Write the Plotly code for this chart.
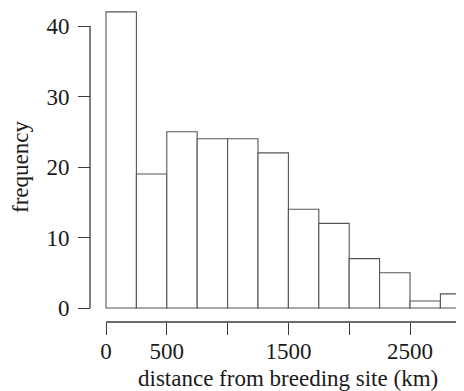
import plotly.graph_objects as go

# ---- data ----
bin_starts = [0, 250, 500, 750, 1000, 1250, 1500, 1750, 2000, 2250, 2500, 2750]
bin_width = 250
frequency = [42, 19, 25, 24, 24, 22, 14, 12, 7, 5, 1, 2]
x_tickvals = [0, 500, 1000, 1500, 2000, 2500, 3000]
x_ticktext = ["0", "500", "", "1500", "", "2500", ""]
y_tickvals = [0, 10, 20, 30, 40]
y_ticktext = ["0", "10", "20", "30", "40"]
x_title = "distance from breeding site (km)"
y_title = "frequency"

# The page body has an 8px default margin, so the figure is drawn 8px
# in from the top-left corner of the 464x391 window.
OFF = 8
W, H = 464 - OFF, 391 - OFF
FONT = "Liberation Serif"
AX = "#3a3a3a"
TXT = "#1a1a1a"

# helpers: window pixel -> paper fraction (margins 0)
def px_x(p):
    return (p - OFF) / W

def px_y(p):
    return 1 - (p - OFF) / H

x0_px, kx = 106, 60.8 / 500      # window pixel of x=0, px per km
y0_px, ky = 308, 7.05            # window pixel of y=0, px per count
xdom_left, ydom_bottom = 92, 312

xr = [-(x0_px - xdom_left) / kx, (464 - x0_px) / kx]
yr = [-(ydom_bottom - y0_px) / ky, (y0_px - OFF) / ky]

fig = go.Figure(
    go.Bar(
        x=bin_starts,
        y=frequency,
        width=bin_width,
        offset=0,
        marker=dict(color="white", line=dict(color="#555555", width=1.1)),
        hoverinfo="x+y",
    )
)

fig.update_layout(
    width=W,
    height=H,
    margin=dict(l=0, r=0, t=0, b=0),
    paper_bgcolor="white",
    plot_bgcolor="white",
    showlegend=False,
    font=dict(family=FONT, color=TXT, size=24),
    xaxis=dict(
        domain=[px_x(xdom_left), 1],
        range=xr,
        anchor="free",
        position=px_y(322),
        showline=False,
        showgrid=False,
        zeroline=False,
        tickmode="array",
        tickvals=x_tickvals,
        ticktext=x_ticktext,
        ticks="outside",
        ticklen=12,
        tickwidth=1.3,
        tickcolor=AX,
        tickfont=dict(family=FONT, size=23, color=TXT),
        ticklabelstandoff=-4,
        automargin=False,
    ),
    yaxis=dict(
        domain=[px_y(ydom_bottom), 1],
        range=yr,
        anchor="free",
        position=px_x(90),
        showline=False,
        showgrid=False,
        zeroline=False,
        tickmode="array",
        tickvals=y_tickvals,
        ticktext=y_ticktext,
        ticks="outside",
        ticklen=12,
        tickwidth=1.3,
        tickcolor=AX,
        tickfont=dict(family=FONT, size=23, color=TXT),
        ticklabelstandoff=4,
        automargin=False,
    ),
    shapes=[
        dict(type="line", xref="x", yref="paper",
             x0=min(x_tickvals), x1=max(x_tickvals),
             y0=px_y(322), y1=px_y(322),
             line=dict(color=AX, width=1.3)),
        dict(type="line", xref="paper", yref="y",
             x0=px_x(90), x1=px_x(90),
             y0=min(y_tickvals), y1=max(y_tickvals),
             line=dict(color=AX, width=1.3)),
    ],
    annotations=[
        dict(text=x_title, xref="x", yref="paper",
             x=(min(x_tickvals) + max(x_tickvals)) / 2, y=px_y(378),
             showarrow=False, xanchor="center", yanchor="middle",
             font=dict(family=FONT, size=23, color=TXT)),
        dict(text=y_title, xref="paper", yref="y",
             x=px_x(20), y=(min(y_tickvals) + max(y_tickvals)) / 2,
             textangle=-90, showarrow=False, xanchor="center", yanchor="middle",
             font=dict(family=FONT, size=23, color=TXT)),
    ],
)

fig.write_html("out.html")
